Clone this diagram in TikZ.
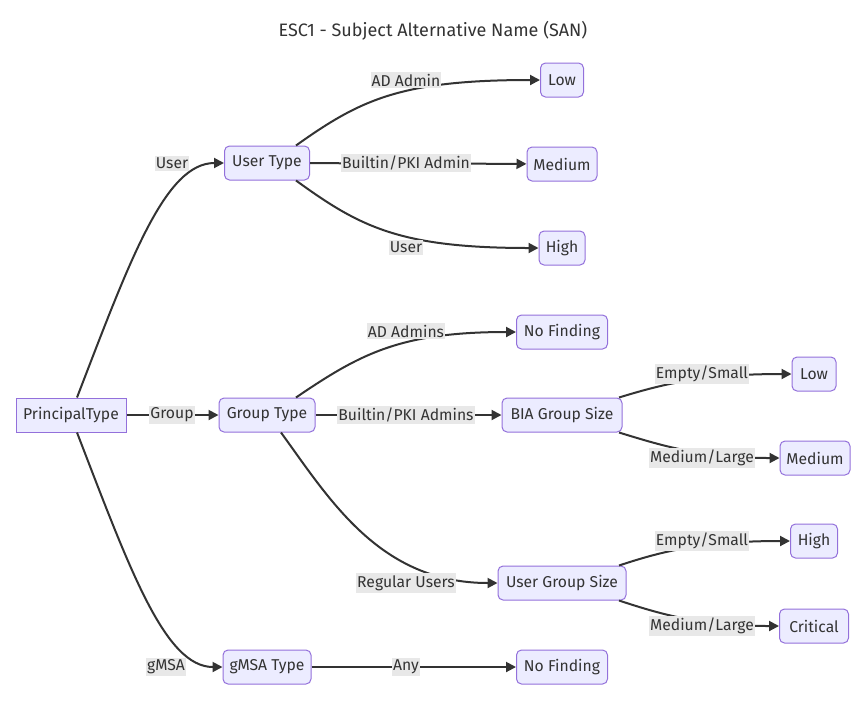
\documentclass[tikz,border=0pt]{standalone}
\usepackage{fontspec}
\setmainfont{Fira Sans}
\usepackage{xcolor}
\usetikzlibrary{arrows.meta}
\definecolor{nodefill}{HTML}{ECECFF}
\definecolor{nodeline}{HTML}{9370DB}
\definecolor{inkgray}{HTML}{333333}
\definecolor{labelfill}{HTML}{E8E8E8}
\tikzset{
	riskblock/.style = {
		rectangle,
		align = center,
		minimum height = 34pt,
		inner sep = 0pt,
		rounded corners = 5pt,
		line width = 1pt,
		draw = nodeline,
		fill = nodefill,
		text = inkgray,
		font = \fontsize{15.7}{18}\selectfont,
	},
	rootblock/.style = {riskblock, sharp corners},
	edgelabel/.style = {
		fill = labelfill,
		inner xsep = 1pt,
		inner ysep = 2pt,
		text = inkgray,
		font = \fontsize{15.7}{18}\selectfont,
	},
	flowline/.style = {
		draw = inkgray,
		line width = 2pt,
		-{Triangle[length=10pt,width=10pt]},
	}
}

\begin{document}
\begin{tikzpicture}[x=1pt,y=-1pt]
	\useasboundingbox (0,0) rectangle (866,705);
	\node[text=inkgray, font=\fontsize{18}{21}\selectfont](title) at (433,31){ESC1 - Subject Alternative Name (SAN)};
	
	\node[rootblock, minimum width = 110pt](ptype) at (71,415){PrincipalType};
	\node[riskblock, minimum width = 85pt](utype) at (267,163){User Type};
	\node[riskblock, minimum width = 96pt](gtype) at (267,415){Group Type};
	\node[riskblock, minimum width = 88pt](mtype) at (267,667){gMSA Type};
	
	\node[riskblock, minimum width = 43pt](ulow) at (562,80){Low};
	\node[riskblock, minimum width = 70pt](umedium) at (562,164){Medium};
	\node[riskblock, minimum width = 46pt](uhigh) at (562,248){High};
	\node[riskblock, minimum width = 91pt](gnone) at (562,332){No Finding};
	\node[riskblock, minimum width = 120pt](biasize) at (562,415){BIA Group Size};
	\node[riskblock, minimum width = 128pt](usersize) at (562,583){User Group Size};
	\node[riskblock, minimum width = 91pt](mnone) at (562,667){No Finding};
	
	\node[riskblock, minimum width = 44pt](blow) at (814,374){Low};
	\node[riskblock, minimum width = 70pt](bmedium) at (815,458){Medium};
	\node[riskblock, minimum width = 47pt](shigh) at (814,541){High};
	\node[riskblock, minimum width = 69pt](scritical) at (814,626){Critical};
	
	\draw[flowline]([xshift=6pt]ptype.north) .. controls (130,260) and (165,163) .. (utype.west);
	\draw[flowline](ptype)--(gtype);
	\draw[flowline]([xshift=6pt]ptype.south) .. controls (130,570) and (165,667) .. (mtype.west);
	
	\draw[flowline]([xshift=29pt]utype.north) .. controls (360,100) and (400,80) .. (ulow.west);
	\draw[flowline](utype)--(umedium);
	\draw[flowline]([xshift=29pt]utype.south) .. controls (360,227) and (400,248) .. (uhigh.west);
	
	\draw[flowline]([xshift=29pt]gtype.north) .. controls (360,354) and (400,332) .. (gnone.west);
	\draw[flowline](gtype)--(biasize);
	\draw[flowline]([xshift=14pt]gtype.south) .. controls (330,500) and (380,583) .. (usersize.west);
	\draw[flowline](mtype)--(mnone);
	
	\draw[flowline]([xshift=57pt]biasize.north) .. controls (660,385) and (700,374) .. (blow.west);
	\draw[flowline]([xshift=57pt]biasize.south) .. controls (660,445) and (700,458) .. (bmedium.west);
	\draw[flowline]([xshift=57pt]usersize.north) .. controls (660,552) and (700,541) .. (shigh.west);
	\draw[flowline]([xshift=57pt]usersize.south) .. controls (660,614) and (700,626) .. (scritical.west);
	
	% edge labels on top
	\node[edgelabel](luser) at (172,163){User};
	\node[edgelabel](lgroup) at (172,415){Group};
	\node[edgelabel](lgmsa) at (166,667){gMSA};
	\node[edgelabel](ladmin) at (406,80){AD Admin};
	\node[edgelabel](lbuiltin) at (406,163){Builtin/PKI Admin};
	\node[edgelabel](luseru) at (406,247){User};
	\node[edgelabel](ladmins) at (406,331){AD Admins};
	\node[edgelabel](lbuiltins) at (406,415){Builtin/PKI Admins};
	\node[edgelabel](lregular) at (406,583){Regular Users};
	\node[edgelabel](lany) at (406,667){Any};
	\node[edgelabel](lbsmall) at (702,374){Empty/Small};
	\node[edgelabel](lblarge) at (702,458){Medium/Large};
	\node[edgelabel](lusmall) at (702,541){Empty/Small};
	\node[edgelabel](lularge) at (702,626){Medium/Large};
\end{tikzpicture}
\end{document}
